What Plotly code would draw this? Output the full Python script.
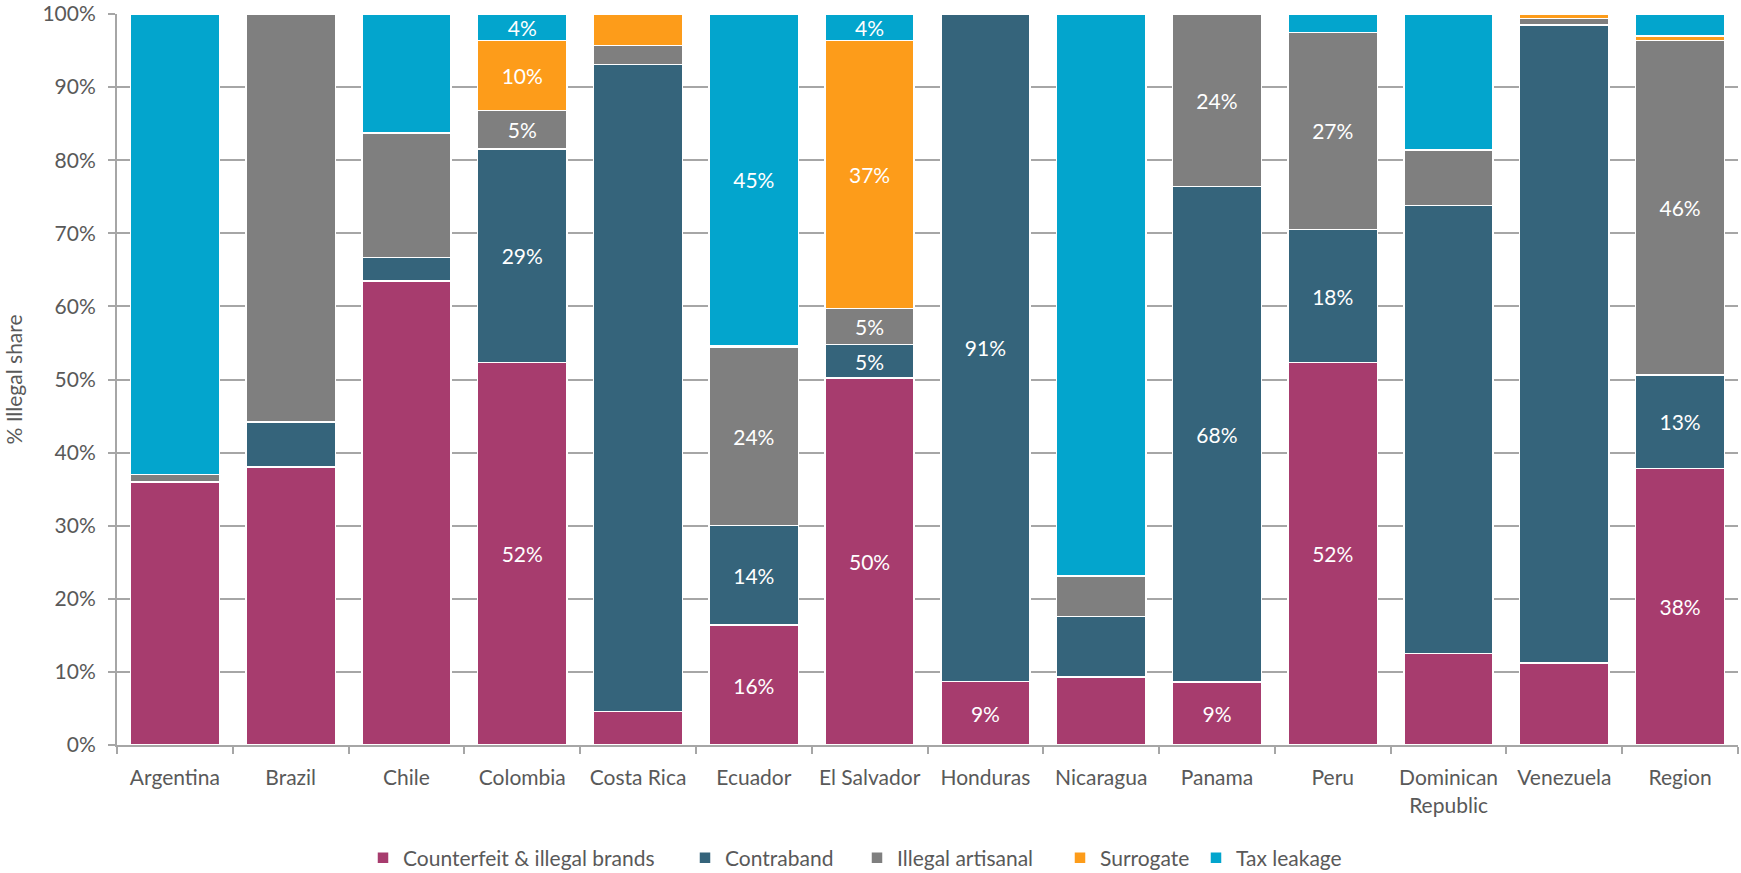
import plotly.graph_objects as go

categories = ["Argentina", "Brazil", "Chile", "Colombia", "Costa Rica", "Ecuador",
              "El Salvador", "Honduras", "Nicaragua", "Panama", "Peru",
              "Dominican<br>Republic", "Venezuela", "Region"]

counterfeit = [36.0, 38.0, 63.5, 52.3, 4.6, 16.4, 50.2, 8.7, 9.3, 8.6, 52.3, 12.5, 11.2, 37.8]
contraband = [0.0, 6.2, 3.2, 29.2, 88.5, 13.6, 4.6, 91.3, 8.3, 67.8, 18.2, 61.3, 87.3, 12.8]
illegal_artisanal = [1.0, 55.8, 17.0, 5.3, 2.6, 24.4, 4.9, 0.0, 5.5, 23.6, 27.0, 7.6, 0.9, 45.8]
surrogate = [0.0, 0.0, 0.0, 9.6, 4.3, 0.2, 36.7, 0.0, 0.0, 0.0, 0.0, 0.0, 0.6, 0.6]
tax_leakage = [63.0, 0.0, 16.3, 3.6, 0.0, 45.4, 3.6, 0.0, 76.9, 0.0, 2.5, 18.6, 0.0, 3.0]

labelled = {"Colombia", "Ecuador", "El Salvador", "Honduras", "Panama", "Peru", "Region"}

series = [
    ("Counterfeit & illegal brands", counterfeit, "#A73C6E"),
    ("Contraband", contraband, "#35647B"),
    ("Illegal artisanal", illegal_artisanal, "#7F7F7F"),
    ("Surrogate", surrogate, "#FD9C1A"),
    ("Tax leakage", tax_leakage, "#03A5CD"),
]

# legend entry left positions (px, container)
legend_x_px = [363, 685, 857, 1060, 1196]

FONT = "Lato"
FS = 21
fig = go.Figure()
legend_ids = ["legend"] + [f"legend{i}" for i in range(2, len(series) + 1)]
for (name, vals, col), lid in zip(series, legend_ids):
    texts = [f"{round(v)}%" if (c in labelled and v >= 3.5) else ""
             for c, v in zip(categories, vals)]
    fig.add_trace(go.Bar(
        x=categories, y=vals, name=name, legend=lid,
        marker=dict(color=col, line=dict(color="white", width=1.5)),
        text=texts, textposition="inside", insidetextanchor="middle",
        textfont=dict(color="white", size=FS, family=FONT),
        hoverinfo="skip",
    ))

W, H = 1741, 873
legend_layout = {}
for lid, px in zip(legend_ids, legend_x_px):
    legend_layout[lid] = dict(
        orientation="h", xref="container", yref="container",
        x=px / W, xanchor="left", y=(H - 858) / H, yanchor="middle",
        font=dict(size=FS, color="#595959", family=FONT),
        itemwidth=30, bgcolor="rgba(0,0,0,0)",
    )

fig.update_layout(
    barmode="stack",
    bargap=0.23,
    width=W, height=H,
    margin=dict(l=117, r=3, t=14, b=128, autoexpand=False),
    plot_bgcolor="white", paper_bgcolor="white",
    font=dict(family=FONT, color="#595959", size=FS),
    showlegend=True,
    uniformtext=dict(minsize=FS, mode="show"),
    **legend_layout,
)
fig.update_xaxes(
    showline=True, linecolor="#A6A6A6", linewidth=2,
    ticks="outside", tickson="boundaries", ticklen=7, tickcolor="#A6A6A6", tickwidth=2,
    tickfont=dict(size=FS, color="#595959", family=FONT),
    ticklabelstandoff=13,
    showgrid=False, automargin=False,
)
fig.update_yaxes(
    range=[0, 100], dtick=10, ticksuffix="%",
    showline=True, linecolor="#A6A6A6", linewidth=2,
    ticks="outside", ticklen=7, tickcolor="#A6A6A6", tickwidth=2,
    showgrid=True, gridcolor="#A6A6A6", gridwidth=2,
    tickfont=dict(size=FS, color="#595959", family=FONT),
    ticklabelstandoff=8,
    title=dict(text="% Illegal share", font=dict(size=FS, color="#595959", family=FONT), standoff=14),
    zeroline=False, automargin=False,
)

fig.write_html("out.html", config={"displayModeBar": False},
               post_script="document.body.style.margin='0';")
